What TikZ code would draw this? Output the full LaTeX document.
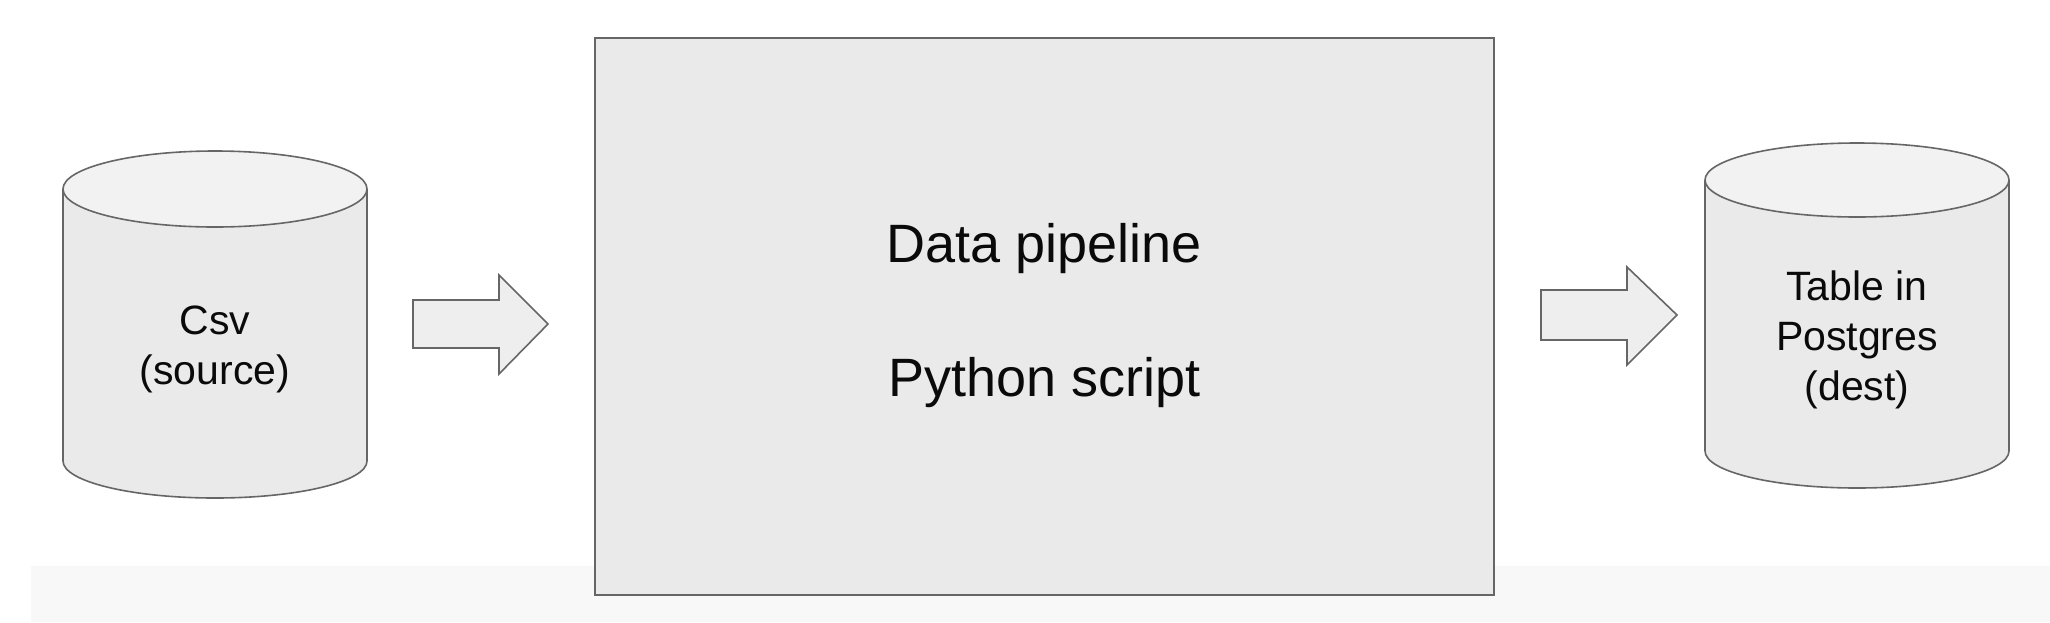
\documentclass[tikz,border=0pt]{standalone}
\usepackage{fontspec}
\setmainfont{Liberation Sans}
\definecolor{strokec}{HTML}{666666}
\definecolor{bodyc}{HTML}{EAEAEA}
\definecolor{topc}{HTML}{F2F2F2}
\definecolor{arrowc}{HTML}{EEEEEE}
\definecolor{bandc}{HTML}{F8F8F8}
\definecolor{textc}{HTML}{0A0A0A}
\tikzset{
  cylline/.style={draw=strokec, line width=0.8pt},
  blockarrow/.style={draw=strokec, fill=arrowc, line width=0.8pt, line join=miter},
  cyltext/.style={align=center, text=textc, font=\fontsize{20.5}{25}\selectfont},
  pipebox/.style={draw=strokec, fill=bodyc, line width=1pt, minimum width=449.5pt, minimum height=278.5pt,
    align=center, text=textc, font=\fontsize{27}{67}\selectfont}
}
\begin{document}
\begin{tikzpicture}[x=0.5pt, y=-0.5pt]
\useasboundingbox (0,0) rectangle (2050,622);
\fill[white] (0,0) rectangle (2050,622);
\fill[bandc] (31,566) rectangle (2050,622);

% left cylinder
\fill[bodyc] (63,189) -- (63,461) arc[start angle=180, end angle=0, x radius=152, y radius=37] -- (367,189) -- cycle;
\draw[cylline] (63,189) -- (63,461) arc[start angle=180, end angle=0, x radius=152, y radius=37] -- (367,189);
\draw[cylline, fill=topc] (215,189) ellipse [x radius=152, y radius=38];
\node[cyltext] (src) at (215,349) {Csv\\(source)};

% right cylinder
\fill[bodyc] (1705,180) -- (1705,451) arc[start angle=180, end angle=0, x radius=152, y radius=37] -- (2009,180) -- cycle;
\draw[cylline] (1705,180) -- (1705,451) arc[start angle=180, end angle=0, x radius=152, y radius=37] -- (2009,180);
\draw[cylline, fill=topc] (1857,180) ellipse [x radius=152, y radius=37];
\node[cyltext] (dst) at (1857,340) {Table in\\Postgres\\(dest)};

% main box
\node[pipebox] (pipe) at (1044.5,316) {Data pipeline\\Python script};

% block arrows
\draw[blockarrow] (413,300) -- (499,300) -- (499,275) -- (548,324) -- (499,374) -- (499,348) -- (413,348) -- cycle;
\draw[blockarrow] (1541,290) -- (1627,290) -- (1627,267) -- (1677,315) -- (1627,365) -- (1627,340) -- (1541,340) -- cycle;
\end{tikzpicture}
\end{document}
